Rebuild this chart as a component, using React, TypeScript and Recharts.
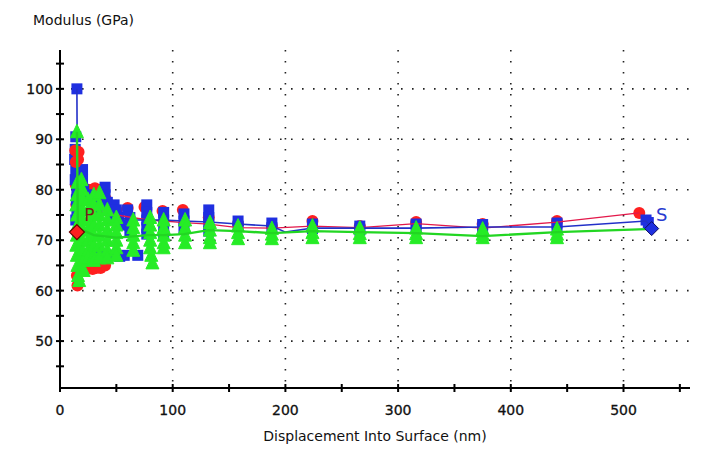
import React from 'react';
import { ScatterChart, Scatter, XAxis, YAxis, CartesianGrid, ReferenceDot } from 'recharts';

const xTicks = [0, 50, 100, 150, 200, 250, 300, 350, 400, 450, 500, 550];
const yTicks = [45, 50, 55, 60, 65, 70, 75, 80, 85, 90, 95, 100, 105];
const xGrid = [100, 200, 300, 400, 500];
const yGrid = [50, 60, 70, 80, 90, 100];

const redLine: [number, number][] = [
  [15, 87], [16, 76], [20, 78], [25, 77], [30, 76], [38, 75.5], [50, 75], [64, 74.5], [78, 74], [92, 73.8],
  [110, 73.5], [132, 73.2], [158, 72.5], [188, 72.4], [224, 72.8], [266, 72.5], [316, 73.3], [375, 72.4], [441, 73.6], [514, 75.4],
];
const blueLine: [number, number][] = [
  [15, 100], [15.5, 74], [20, 80], [25, 77], [30, 76], [38, 75], [50, 74.5], [64, 74], [78, 74], [92, 74],
  [110, 73.8], [132, 73.6], [158, 73.2], [188, 72.8], [200, 71.6], [224, 72.4], [266, 72.4], [316, 72.4], [375, 72.6], [441, 72.6], [520, 73.8], [525, 72.3],
];
const greenLine: [number, number][] = [
  [15, 91.5], [16, 70], [20, 72], [30, 71], [50, 70.5], [78, 71], [92, 71], [110, 71.2], [132, 72], [158, 71.8],
  [188, 71.4], [224, 71.8], [266, 71.6], [316, 71.4], [375, 70.8], [441, 71.6], [520, 72.2],
];

const redPts: [number, number][] = [
  [15, 83], [14, 81], [15.5, 79], [14.5, 77], [15, 63], [15.5, 61],
  [20, 79], [22, 78], [25, 80], [28, 80], [31, 80.3], [35, 80], [41, 78],
  [26, 64.5], [29, 64.3], [32, 64.5], [36, 64.5], [40, 65],
  [50, 76], [60, 76.4], [75, 76.6], [91, 75.8], [109, 76], [132, 74.5], [158, 73.2], [188, 72.8],
  [224, 73.8], [266, 72.8], [316, 73.6], [375, 73.2], [441, 73.8], [514, 75.4],
];
const redTop: [number, number][] = [[13.5, 87.8], [16.5, 87.5], [14, 85.5], [16, 86]];

const bluePts: [number, number][] = [
  [15, 100], [14, 90.5], [13.5, 88], [13, 86], [14, 84], [13.5, 82], [15, 80], [14.5, 78], [15, 76], [14, 74],
  [20, 84], [20, 82], [21, 80], [22, 78], [25, 79], [28, 78], [30, 77], [33, 76],
  [40, 80.5], [40, 79], [42, 77.5], [44, 76], [46, 75], [48, 77], [50, 76], [52, 74.5], [54, 73],
  [60, 76], [62, 74.5], [62, 73], [62, 71.5],
  [77, 77], [77, 75.5], [77, 74], [77, 72.5], [77, 71.2],
  [92, 75.5], [92, 74], [92, 72.5], [92, 71],
  [110, 75.2], [110, 73.8], [110, 72.5],
  [132, 76], [132, 74.5], [132, 73], [132, 71.8],
  [158, 73.8], [158, 72.8], [188, 73.4], [188, 72.5], [224, 73.2], [224, 72.3],
  [266, 72.8], [266, 72], [316, 73.2], [316, 72.4], [375, 73.1], [375, 72.3],
  [441, 73.4], [441, 72.5], [520, 74], [522, 73.5],
  [33, 67], [38, 67], [43, 67], [48, 67], [53, 66.8], [57, 67], [69, 67],
];

const greenPts: [number, number][] = [
  [15, 91.5], [15.5, 81.5], [15, 79], [14.5, 77], [15, 75], [15.5, 73], [15, 71], [14.5, 69], [15, 67], [15.5, 65], [16, 63], [17, 62],
  [19, 82], [20, 80], [20.5, 78], [20, 76], [20, 74], [20.5, 72], [20, 70], [20, 68], [20.5, 66], [21, 64],
  [25, 78], [25, 76], [25, 74], [25, 72], [25, 70], [25, 68], [25, 66.5],
  [30, 79], [30, 77], [30, 75], [30, 73], [30, 71], [30, 69], [30, 67], [30, 66],
  [35, 79.4], [35, 77], [35, 75], [35, 73], [35, 71], [35, 69], [35, 67], [35, 66.5],
  [42, 76], [42, 74], [42, 72], [42, 70], [42, 68], [42, 66.5],
  [50, 74.5], [50, 73], [50, 71.5], [50, 70], [50, 68.5], [50, 67],
  [65, 74], [65, 72.5], [65, 71], [65, 69.5], [65, 68],
  [80, 74.5], [80, 73], [80, 71.5], [80, 70], [80, 68.5], [81, 67], [82, 65.5],
  [92, 74], [92, 72.5], [92, 71], [92, 69.5], [92, 68.5],
  [111, 74], [111, 72.5], [111, 71], [111, 69.5],
  [133, 73.5], [133, 72], [133, 70.5], [133, 69.5],
  [158, 72.8], [158, 71.5], [158, 70.3],
  [188, 72.3], [188, 71.2], [188, 70.3],
  [224, 72.8], [224, 71.5], [224, 70.5],
  [266, 72.4], [266, 71.3], [266, 70.5],
  [316, 72.4], [316, 71.3], [316, 70.5],
  [375, 72.2], [375, 71.2], [375, 70.5],
  [441, 72.2], [441, 71.2], [441, 70.5],
];

const redDiamond: [number, number][] = [[15, 71.6]];
const blueDiamond: [number, number][] = [[525, 72.3]];

const toObj = (a: [number, number][]) => a.map(([x, y]) => ({ x, y }));

const RED = '#ff1f1f';
const BLUE = '#1f2fe0';
const GREEN = '#26ec26';
const FONT = 'DejaVu Sans';

const Circle = (p: any) => <circle cx={p.cx} cy={p.cy} r={6} fill={RED} />;
const Square = (p: any) => <rect x={p.cx - 5.5} y={p.cy - 5.5} width={11} height={11} fill={BLUE} />;
const Tri = (p: any) => (
  <polygon points={`${p.cx},${p.cy - 7.5} ${p.cx - 6.5},${p.cy + 6} ${p.cx + 6.5},${p.cy + 6}`} fill={GREEN} stroke={GREEN} strokeWidth={1} strokeLinejoin="round" />
);
const Diamond = (color: string) => (p: any) => (
  <polygon points={`${p.cx},${p.cy - 7.5} ${p.cx + 7.5},${p.cy} ${p.cx},${p.cy + 7.5} ${p.cx - 7.5},${p.cy}`} fill={color} stroke="#600" strokeWidth={1.2} />
);
const BlueDiamond = (p: any) => (
  <polygon points={`${p.cx},${p.cy - 7} ${p.cx + 7},${p.cy} ${p.cx},${p.cy + 7} ${p.cx - 7},${p.cy}`} fill={BLUE} stroke="#0a0a60" strokeWidth={1} />
);
const None = () => <g />;

const YTick = (p: any) => {
  const v = p.payload.value;
  return (
    <g>
      <line x1={p.x - 4} x2={p.x + 4} y1={p.y} y2={p.y} stroke="#000" strokeWidth={2} />
      {v % 10 === 0 && (
        <text x={p.x - 7} y={p.y + 5} textAnchor="end" fontFamily={FONT} fontSize={14} fill="#111" stroke="#111" strokeWidth={0.3}>{v}</text>
      )}
    </g>
  );
};
const XTick = (p: any) => {
  const v = p.payload.value;
  return (
    <g>
      <line x1={p.x} x2={p.x} y1={p.y - 4} y2={p.y + 4} stroke="#000" strokeWidth={2} />
      {v % 100 === 0 && (
        <text x={p.x} y={p.y + 27} textAnchor="middle" fontFamily={FONT} fontSize={14} fill="#111" stroke="#111" strokeWidth={0.3}>{v}</text>
      )}
    </g>
  );
};

export default function App() {
  return (
    <div style={{ position: 'absolute', left: 0, top: 0, width: 712, height: 450, background: '#fff' }}>
      <ScatterChart width={712} height={450} margin={{ top: 50, right: 22, left: 0, bottom: 0 }}>
        <CartesianGrid
          horizontalValues={yGrid}
          verticalValues={xGrid}
          stroke="#222"
          strokeWidth={1.6}
          strokeDasharray="1.6 9.4"
        />
        <XAxis
          type="number"
          dataKey="x"
          domain={[0, 559]}
          ticks={xTicks}
          interval={0}
          height={62}
          tickSize={0}
          tickMargin={0}
          tickLine={false}
          axisLine={{ stroke: '#000', strokeWidth: 2 }}
          tick={<XTick />}
          allowDataOverflow
        />
        <YAxis
          type="number"
          dataKey="y"
          domain={[40.7, 107.7]}
          ticks={yTicks}
          interval={0}
          width={60}
          tickSize={0}
          tickMargin={0}
          tickLine={false}
          axisLine={{ stroke: '#000', strokeWidth: 2 }}
          tick={<YTick />}
          allowDataOverflow
        />
        <Scatter data={toObj(redPts)} shape={Circle} isAnimationActive={false} />
        <Scatter data={toObj(bluePts)} shape={Square} isAnimationActive={false} />
        <Scatter data={toObj(redTop)} shape={Circle} isAnimationActive={false} />
        <Scatter data={toObj(redLine)} line={{ stroke: '#e3184a', strokeWidth: 1.3 }} lineType="joint" shape={None} isAnimationActive={false} />
        <Scatter data={toObj(blueLine)} line={{ stroke: '#2230c8', strokeWidth: 1.6 }} lineType="joint" shape={None} isAnimationActive={false} />
        <Scatter data={toObj(greenPts)} shape={Tri} isAnimationActive={false} />
        <Scatter data={toObj(greenLine)} line={{ stroke: '#22d622', strokeWidth: 2.4 }} lineType="joint" shape={None} isAnimationActive={false} />
        <Scatter data={toObj(redDiamond)} shape={Diamond(RED)} isAnimationActive={false} />
        <Scatter data={toObj(blueDiamond)} shape={BlueDiamond} isAnimationActive={false} />
        <ReferenceDot x={26} y={75} r={0} label={{ value: 'P', position: 'center', fill: '#7a1e1e', fontSize: 17, fontFamily: FONT }} />
        <ReferenceDot x={534} y={75} r={0} label={{ value: 'S', position: 'center', fill: '#2a3bd0', fontSize: 18, fontFamily: FONT }} />
      </ScatterChart>
      <div style={{ position: 'absolute', left: 33, top: 12, fontFamily: FONT, fontSize: 14, color: '#111', whiteSpace: 'nowrap' }}>
        Modulus (GPa)
      </div>
      <div style={{ position: 'absolute', left: 0, width: 750, top: 428, textAlign: 'center', fontFamily: FONT, fontSize: 14, color: '#111', whiteSpace: 'nowrap' }}>
        Displacement Into Surface (nm)
      </div>
    </div>
  );
}
